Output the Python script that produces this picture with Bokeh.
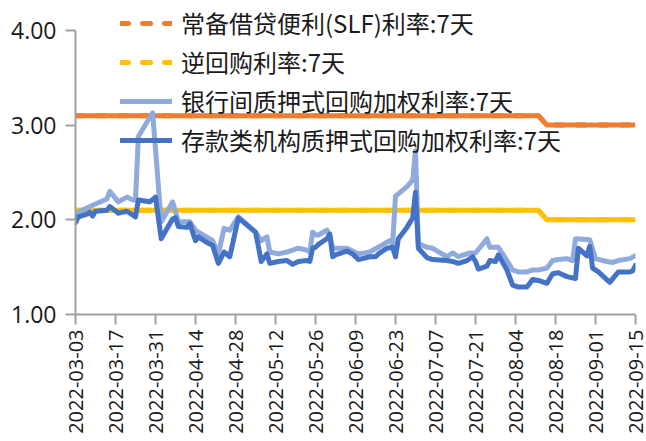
import pandas as pd
from math import pi
from bokeh.plotting import figure
from bokeh.models import (Range1d, FixedTicker, Legend, LegendItem, ColumnDataSource,
                          NumeralTickFormatter)
from bokeh.embed import file_html
from bokeh.resources import INLINE

FONT = "Noto Sans CJK SC"
NUM_FONT = "Open Sans"

series_names = ["常备借贷便利(SLF)利率:7天", "逆回购利率:7天",
                "银行间质押式回购加权利率:7天", "存款类机构质押式回购加权利率:7天"]

tick_labels = ["2022-03-03", "2022-03-17", "2022-03-31", "2022-04-14", "2022-04-28",
               "2022-05-12", "2022-05-26", "2022-06-09", "2022-06-23", "2022-07-07",
               "2022-07-21", "2022-08-04", "2022-08-18", "2022-09-01", "2022-09-15"]
y_ticks = [1.0, 2.0, 3.0, 4.0]

policy_dates = ["2022-03-03", "2022-08-12", "2022-08-15", "2022-09-15"]
slf_rate = [3.10, 3.10, 3.00, 3.00]
reverse_repo_rate = [2.10, 2.10, 2.00, 2.00]

r007_dates = ["2022-03-03", "2022-03-04", "2022-03-08", "2022-03-14", "2022-03-15", "2022-03-18",
              "2022-03-21", "2022-03-23", "2022-03-24", "2022-03-25", "2022-03-30", "2022-04-02",
              "2022-04-06", "2022-04-08", "2022-04-12", "2022-04-14", "2022-04-15", "2022-04-20",
              "2022-04-22", "2022-04-24", "2022-04-26", "2022-04-29", "2022-05-05", "2022-05-07",
              "2022-05-09", "2022-05-10", "2022-05-13", "2022-05-16", "2022-05-20", "2022-05-23",
              "2022-05-24", "2022-05-25", "2022-05-26", "2022-05-27", "2022-05-30", "2022-05-31",
              "2022-06-01", "2022-06-06", "2022-06-08", "2022-06-10", "2022-06-14", "2022-06-17",
              "2022-06-21", "2022-06-22", "2022-06-23", "2022-06-27", "2022-06-29", "2022-06-30",
              "2022-07-01", "2022-07-04", "2022-07-06", "2022-07-07", "2022-07-11", "2022-07-13",
              "2022-07-15", "2022-07-19", "2022-07-21", "2022-07-25", "2022-07-26", "2022-07-28",
              "2022-07-29", "2022-08-01", "2022-08-03", "2022-08-05", "2022-08-08", "2022-08-10",
              "2022-08-12", "2022-08-15", "2022-08-17", "2022-08-19", "2022-08-22", "2022-08-24",
              "2022-08-25", "2022-08-30", "2022-09-01", "2022-09-05", "2022-09-07", "2022-09-09",
              "2022-09-13", "2022-09-15"]
r007_values = [2.05, 2.08, 2.14, 2.22, 2.30, 2.19,
               2.24, 2.21, 2.21, 2.88, 3.13, 1.98,
               2.19, 1.98, 1.98, 1.89, 1.87, 1.78,
               1.64, 1.91, 1.89, 2.03, 1.87, 1.78,
               1.82, 1.66, 1.64, 1.66, 1.70, 1.68,
               1.66, 1.87, 1.84, 1.84, 1.89, 1.83,
               1.70, 1.70, 1.67, 1.64, 1.66, 1.71,
               1.78, 1.75, 2.25, 2.35, 2.42, 2.73,
               1.75, 1.71, 1.70, 1.68, 1.61, 1.65,
               1.61, 1.65, 1.65, 1.80, 1.71, 1.71,
               1.71, 1.57, 1.47, 1.45, 1.45, 1.47,
               1.47, 1.49, 1.57, 1.58, 1.59, 1.57,
               1.80, 1.79, 1.59, 1.56, 1.55, 1.57,
               1.59, 1.62]

dr007_dates = ["2022-03-03", "2022-03-04", "2022-03-07", "2022-03-08", "2022-03-09", "2022-03-10",
               "2022-03-14", "2022-03-15", "2022-03-18", "2022-03-21", "2022-03-24", "2022-03-25",
               "2022-03-29", "2022-03-31", "2022-04-02", "2022-04-06", "2022-04-07", "2022-04-08",
               "2022-04-11", "2022-04-12", "2022-04-14", "2022-04-15", "2022-04-18", "2022-04-20",
               "2022-04-22", "2022-04-24", "2022-04-26", "2022-04-29", "2022-05-05", "2022-05-06",
               "2022-05-07", "2022-05-09", "2022-05-10", "2022-05-13", "2022-05-16", "2022-05-18",
               "2022-05-20", "2022-05-23", "2022-05-24", "2022-05-25", "2022-05-26", "2022-05-27",
               "2022-05-30", "2022-05-31", "2022-06-01", "2022-06-02", "2022-06-06", "2022-06-08",
               "2022-06-10", "2022-06-14", "2022-06-16", "2022-06-17", "2022-06-20", "2022-06-22",
               "2022-06-23", "2022-06-24", "2022-06-27", "2022-06-28", "2022-06-29", "2022-06-30",
               "2022-07-01", "2022-07-04", "2022-07-06", "2022-07-11", "2022-07-13", "2022-07-15",
               "2022-07-18", "2022-07-20", "2022-07-21", "2022-07-22", "2022-07-25", "2022-07-26",
               "2022-07-28", "2022-07-29", "2022-08-01", "2022-08-03", "2022-08-05", "2022-08-08",
               "2022-08-10", "2022-08-12", "2022-08-15", "2022-08-17", "2022-08-19", "2022-08-22",
               "2022-08-25", "2022-08-26", "2022-08-29", "2022-08-30", "2022-08-31", "2022-09-02",
               "2022-09-06", "2022-09-09", "2022-09-13", "2022-09-14", "2022-09-15"]
dr007_values = [1.97, 2.03, 2.06, 2.08, 2.04, 2.09,
                2.10, 2.14, 2.07, 2.09, 2.03, 2.21,
                2.19, 2.24, 1.80, 2.01, 2.02, 1.93,
                1.92, 1.96, 1.78, 1.82, 1.76, 1.73,
                1.54, 1.66, 1.61, 2.02, 1.87, 1.72,
                1.56, 1.64, 1.54, 1.56, 1.57, 1.53,
                1.56, 1.57, 1.56, 1.70, 1.71, 1.74,
                1.80, 1.85, 1.61, 1.63, 1.67, 1.64,
                1.58, 1.61, 1.61, 1.64, 1.70, 1.71,
                1.61, 1.80, 1.92, 1.97, 2.02, 2.29,
                1.70, 1.60, 1.58, 1.57, 1.56, 1.54,
                1.57, 1.61, 1.56, 1.48, 1.51, 1.57,
                1.56, 1.63, 1.47, 1.31, 1.29, 1.29,
                1.37, 1.36, 1.33, 1.43, 1.44, 1.40,
                1.38, 1.70, 1.62, 1.72, 1.49, 1.45,
                1.34, 1.45, 1.45, 1.46, 1.52]

colors = ["#ED7D31", "#FFC000", "#8FAADC", "#4472C4"]

policy_src = ColumnDataSource(dict(x=pd.to_datetime(policy_dates), slf=slf_rate, rr=reverse_repo_rate))
r007_src = ColumnDataSource(dict(x=pd.to_datetime(r007_dates), y=r007_values))
dr007_src = ColumnDataSource(dict(x=pd.to_datetime(dr007_dates), y=dr007_values))

tick_dt = pd.to_datetime(tick_labels)
tick_ms = [float(t.value // 10**6) for t in tick_dt]

p = figure(width=646, height=441, x_axis_type="datetime",
           x_range=Range1d(tick_dt[0], tick_dt[-1]), y_range=Range1d(1.0, 4.295),
           output_backend="svg", toolbar_location=None,
           min_border_left=75, min_border_right=11, min_border_top=2, min_border_bottom=127)
p.outline_line_color = None
p.grid.visible = False
p.background_fill_color = "white"
p.border_fill_color = "white"

LW = 5
# dashed versions (shown in legend), covered by the solid lines in the plot area
slf_dash = p.line("x", "slf", source=policy_src, line_color=colors[0], line_width=LW,
                  line_dash="8 14", line_cap="round")
rr_dash = p.line("x", "rr", source=policy_src, line_color=colors[1], line_width=LW,
                 line_dash="8 14", line_cap="round")
p.line("x", "slf", source=policy_src, line_color=colors[0], line_width=LW, line_join="round")
p.line("x", "rr", source=policy_src, line_color=colors[1], line_width=LW, line_join="round")
r007_r = p.line("x", "y", source=r007_src, line_color=colors[2], line_width=LW,
                line_join="round", line_cap="round")
dr007_r = p.line("x", "y", source=dr007_src, line_color=colors[3], line_width=LW,
                 line_join="round", line_cap="round")

# one single-item legend per row, so that every row sits at its own place
legend_renderers = [slf_dash, rr_dash, r007_r, dr007_r]
legend_bottoms = [274, 235, 196, 157]   # screen px above the frame bottom
for name, rend, vy in zip(series_names, legend_renderers, legend_bottoms):
    lg = Legend(items=[LegendItem(label=name, renderers=[rend])],
                location=(45, vy), padding=0, margin=0, spacing=0,
                glyph_width=52, glyph_height=32, label_height=32, label_standoff=9,
                label_text_font=FONT, label_text_font_size="24px", label_text_color="#1a1a1a",
                background_fill_alpha=0, border_line_color=None)
    p.add_layout(lg, "center")

axis_col = "#a0a0a0"
for ax in (p.xaxis[0], p.yaxis[0]):
    ax.axis_line_color = axis_col
    ax.axis_line_width = 2
    ax.major_tick_line_color = axis_col
    ax.major_tick_line_width = 2
    ax.major_tick_out = 10
    ax.major_tick_in = 0
    ax.minor_tick_out = 0
    ax.minor_tick_in = 0
    ax.major_label_text_font = NUM_FONT
    ax.major_label_text_color = "#1a1a1a"

p.xaxis.major_label_text_font_size = "20px"
p.yaxis.major_label_text_font_size = "23px"

p.xaxis.ticker = FixedTicker(ticks=tick_ms)
p.xaxis.major_label_overrides = {ms: lab for ms, lab in zip(tick_ms, tick_labels)}
p.xaxis.major_label_orientation = pi / 2
p.xaxis.major_label_standoff = 5

p.yaxis.ticker = FixedTicker(ticks=y_ticks)
p.yaxis.formatter = NumeralTickFormatter(format="0.00")
p.yaxis.bounds = (1, 4)
p.yaxis.major_label_standoff = 9

open("out.html", "w").write(file_html(p, INLINE))
